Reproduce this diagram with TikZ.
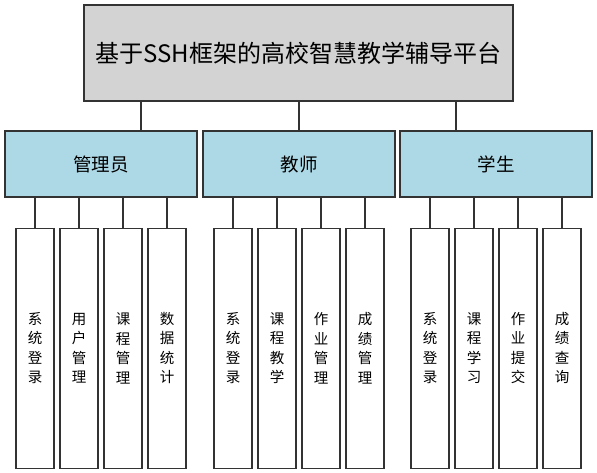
\documentclass[tikz,border=0pt]{standalone}
\usepackage{fontspec}
\setmainfont{Noto Sans CJK SC}
\definecolor{edgegray}{HTML}{333333}
\definecolor{titlegray}{HTML}{D3D3D3}
\definecolor{rolblue}{HTML}{ADD8E6}
\tikzset{
  titlebox/.style={draw=edgegray, fill=titlegray, line width=1.2pt,
    minimum width=429pt, minimum height=96pt, inner sep=0pt,
    font=\fontsize{24}{28}\selectfont},
  rolebox/.style={draw=edgegray, fill=rolblue, line width=1.2pt,
    minimum width=192pt, minimum height=66pt, inner sep=0pt,
    font=\fontsize{18.5}{22}\selectfont},
  funcbox/.style={draw=edgegray, fill=white, line width=1.2pt,
    minimum width=38pt, minimum height=240pt, inner sep=0pt,
    align=center, anchor=north, font=\fontsize{14.5}{19.5}\selectfont},
  link/.style={draw=edgegray, line width=1.2pt}
}
\begin{document}
\begin{tikzpicture}[x=1pt,y=-1pt]
  \useasboundingbox (0,0) rectangle (597,473);
  \node[titlebox] (title) at (298.5,53) {基于SSH框架的高校智慧教学辅导平台};
  % roles
  \foreach \g/\gx/\gtext/\off in {adm/101/管理员/40, tch/299/教师/0, stu/496/学生/-40} {
    \node[rolebox] (\g) at (\gx,164) {\gtext};
    \coordinate (\g-top) at ([xshift=\off pt]\g.north);
    \draw[link] (\g-top |- title.south) -- (\g-top);
  }
  % functions
  \foreach \g/\i/\t in {adm/1/{系\\统\\登\\录}, adm/2/{用\\户\\管\\理},
      adm/3/{课\\程\\管\\理}, adm/4/{数\\据\\统\\计},
      tch/1/{系\\统\\登\\录}, tch/2/{课\\程\\教\\学},
      tch/3/{作\\业\\管\\理}, tch/4/{成\\绩\\管\\理},
      stu/1/{系\\统\\登\\录}, stu/2/{课\\程\\学\\习},
      stu/3/{作\\业\\提\\交}, stu/4/{成\\绩\\查\\询}} {
    \node[funcbox] (\g-\i) at ([xshift={(\i-2.5)*44pt}, yshift=-30pt]\g.south) {\t};
    \draw[link] (\g-\i.north |- \g.south) -- (\g-\i.north);
  }
\end{tikzpicture}
\end{document}
